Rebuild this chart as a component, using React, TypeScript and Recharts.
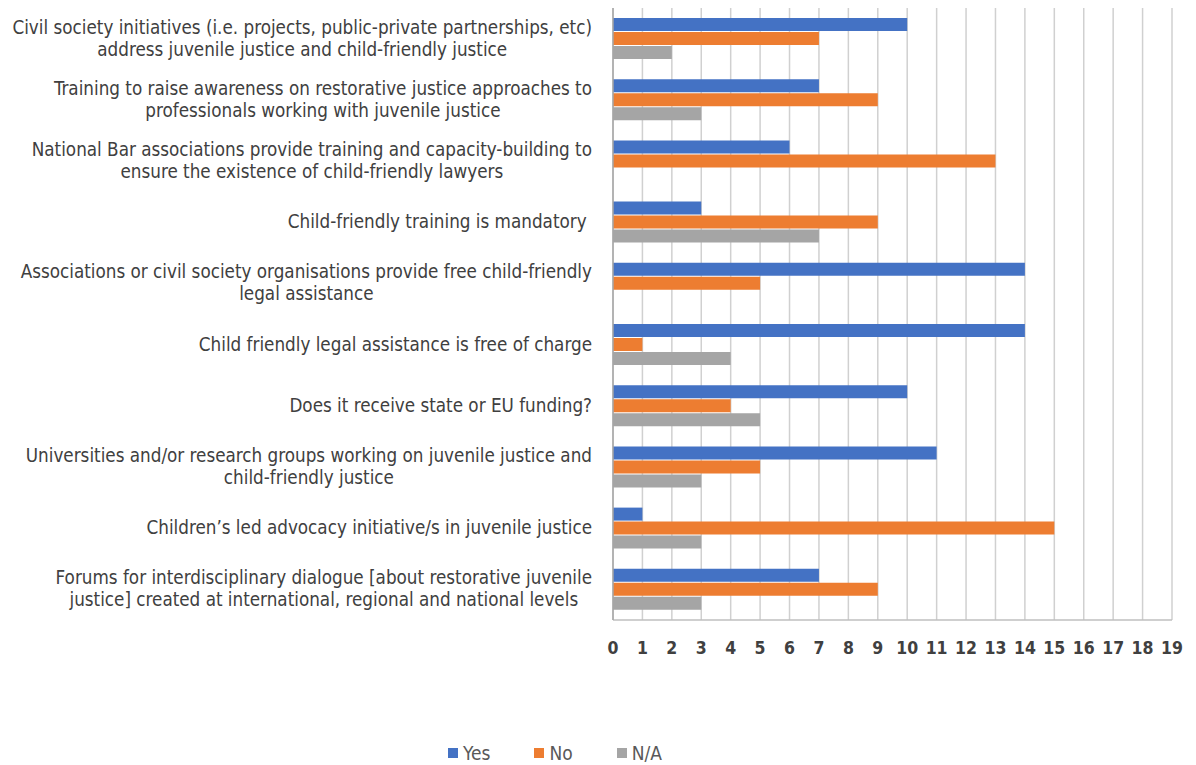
import React from 'react';
import { BarChart, Bar, XAxis, YAxis, CartesianGrid, Legend } from 'recharts';

const categories = [
  'Civil society initiatives (i.e. projects, public-private partnerships, etc)\naddress juvenile justice and child-friendly justice',
  'Training to raise awareness on restorative justice approaches to\nprofessionals working with juvenile justice',
  'National Bar associations provide training and capacity-building to\nensure the existence of child-friendly lawyers',
  'Child-friendly training is mandatory ',
  'Associations or civil society organisations provide free child-friendly\nlegal assistance',
  'Child friendly legal assistance is free of charge',
  'Does it receive state or EU funding?',
  'Universities and/or research groups working on juvenile justice and\nchild-friendly justice',
  'Children’s led advocacy initiative/s in juvenile justice',
  'Forums for interdisciplinary dialogue [about restorative juvenile\njustice] created at international, regional and national levels',
];

const yesValues = [10, 7, 6, 3, 14, 14, 10, 11, 1, 7];
const noValues = [7, 9, 13, 9, 5, 1, 4, 5, 15, 9];
const naValues = [2, 3, 0, 7, 0, 4, 5, 3, 3, 3];

const xTicks = [0, 1, 2, 3, 4, 5, 6, 7, 8, 9, 10, 11, 12, 13, 14, 15, 16, 17, 18, 19];

const series = [
  { key: 'yes', name: 'Yes', color: '#4472C4' },
  { key: 'no', name: 'No', color: '#ED7D31' },
  { key: 'na', name: 'N/A', color: '#A5A5A5' },
];

const FONT = '"Liberation Sans Narrow", "DejaVu Sans Condensed", Roboto, sans-serif';

const data = categories.map((label, i) => ({
  label,
  yes: yesValues[i],
  no: noValues[i],
  na: naValues[i],
}));

// wrapped category label, block right aligned, lines centred inside it
const CategoryTick = (props: any) => {
  const { x, y, payload } = props;
  const lines: string[] = String(payload.value).split('\n');
  const boxH = lines.length * 22;
  return (
    <foreignObject x={x - 605} y={y - boxH / 2} width={592} height={boxH}>
      <div
        style={{
          display: 'flex',
          justifyContent: 'flex-end',
          fontFamily: FONT,
          fontSize: 18.7,
          color: '#404040',
          lineHeight: '22px',
          whiteSpace: 'pre',
        }}
      >
        <div style={{ textAlign: 'center' }}>
          {lines.map((l, i) => (
            <div key={i}>{l}</div>
          ))}
        </div>
      </div>
    </foreignObject>
  );
};

const LegendContent = () => (
  <div
    style={{
      display: 'flex',
      justifyContent: 'center',
      alignItems: 'center',
      height: 24,
      paddingRight: 70,
      fontFamily: FONT,
      fontSize: 19,
      color: '#595959',
    }}
  >
    {series.map(s => (
      <div key={s.key} style={{ display: 'flex', alignItems: 'center', margin: '0 22px' }}>
        <span style={{ width: 10, height: 10, background: s.color, marginRight: 5, display: 'inline-block' }} />
        <span>{s.name}</span>
      </div>
    ))}
  </div>
);

const App: React.FC = () => {
  return (
    <div style={{ width: 1188, height: 757 }}>
      <BarChart
        width={1188}
        height={757}
        data={data}
        layout="vertical"
        margin={{ top: 0, right: 24, left: 0, bottom: 0 }}
        barSize={13}
        barGap={1}
      >
        <CartesianGrid horizontal={false} stroke="#d0d0d0" strokeWidth={1.5} />
        <XAxis
          type="number"
          domain={[0, 19]}
          ticks={xTicks}
          interval={0}
          height={121}
          tickLine={false}
          tickSize={0}
          tickMargin={22}
          axisLine={{ stroke: '#bfbfbf', strokeWidth: 1.5 }}
          tick={{ fontSize: 17.5, fontWeight: 700, fill: '#404040', fontFamily: FONT }}
        />
        <YAxis
          type="category"
          dataKey="label"
          width={605}
          interval={0}
          tickLine={false}
          axisLine={{ stroke: '#a6a6a6', strokeWidth: 1.5 }}
          tick={<CategoryTick />}
        />
        <Legend verticalAlign="bottom" height={24} content={<LegendContent />} />
        {series.map(s => (
          <Bar key={s.key} dataKey={s.key} name={s.name} fill={s.color} isAnimationActive={false} />
        ))}
      </BarChart>
    </div>
  );
};

export default App;
